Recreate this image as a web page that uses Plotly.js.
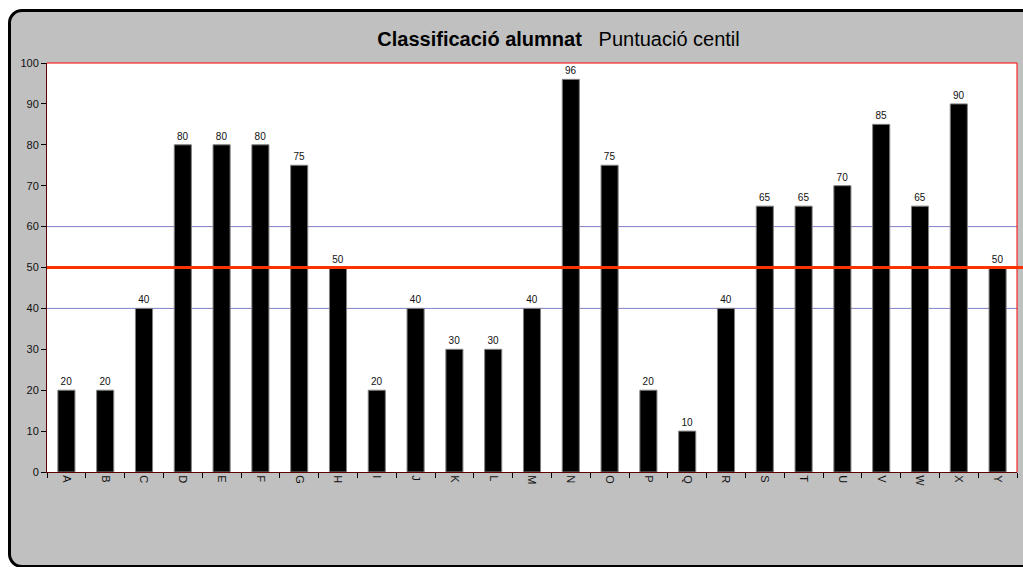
<!DOCTYPE html>
<html>
<head>
<meta charset="utf-8">
<script src="https://cdn.plot.ly/plotly-3.0.1.min.js"></script>
<style>
  html, body { margin:0; padding:0; background:#ffffff; overflow:hidden; }
  #frame { position:absolute; left:8px; top:9px; width:1040px; height:553px;
           border:3px solid #000; border-radius:14px; background:#c0c0c0; }
  #chart { position:absolute; left:0; top:0; width:1023px; height:567px; }
</style>
</head>
<body>
<div id="frame"></div>
<div id="chart"></div>
<script>
const categories = ['A','B','C','D','E','F','G','H','I','J','K','L','M','N','O','P','Q','R','S','T','U','V','W','X','Y'];
const scores = [20,20,40,80,80,80,75,50,20,40,30,30,40,96,75,20,10,40,65,65,70,85,65,90,50];
const yTicks = [0,10,20,30,40,50,60,70,80,90,100];
const threshold = 50;
const gridValues = [40, 60];

const trace = {
  type: 'bar',
  x: categories,
  y: scores,
  text: scores.map(String),
  textposition: 'outside',
  cliponaxis: false,
  textfont: {family: 'Liberation Sans, Arial, sans-serif', size: 10, color: '#111'},
  marker: {color: '#000000', line: {color: '#808080', width: 1}},
  hoverinfo: 'x+y'
};

const shapes = [];
gridValues.forEach(v => shapes.push({
  type: 'line', xref: 'paper', yref: 'y', x0: 0, x1: 1, y0: v, y1: v,
  line: {color: '#8080c8', width: 1}, layer: 'below'
}));
// plot border top & right
shapes.push({type:'line', xref:'paper', yref:'paper', x0:0, x1:1, y0:1, y1:1, line:{color:'#ff0000', width:1}});
shapes.push({type:'line', xref:'paper', yref:'paper', x0:1, x1:1, y0:0, y1:1, line:{color:'#ff0000', width:1}});
// threshold line
shapes.push({type:'line', xref:'paper', yref:'y', x0:0, x1:1.01, y0:threshold, y1:threshold,
  line:{color:'#ff3300', width:3}, layer:'above'});

const layout = {
  width: 1023, height: 567,
  margin: {l: 47, r: 6, t: 63, b: 95},
  paper_bgcolor: 'rgba(0,0,0,0)',
  plot_bgcolor: '#ffffff',
  showlegend: false,
  bargap: 0.56,
  font: {family: 'Liberation Sans, Arial, sans-serif', color: '#222'},
  title: {
    text: '<b>Classificació alumnat</b>&nbsp;&nbsp;&nbsp;Puntuació centil',
    font: {size: 20, color: '#000', family: 'Liberation Sans, Arial, sans-serif'},
    xref: 'container', x: 0.546, xanchor: 'center',
    yref: 'container', y: 0.931, yanchor: 'middle'
  },
  xaxis: {
    type: 'category',
    tickangle: 90,
    ticks: 'outside', ticklen: 5, tickcolor: '#000', tickson: 'boundaries',
    showline: true, linecolor: '#600000', linewidth: 1,
    showgrid: false, zeroline: false,
    tickfont: {size: 11, color: '#111'},
    fixedrange: true
  },
  yaxis: {
    range: [0, 100],
    tickvals: yTicks,
    ticks: 'outside', ticklen: 5, tickcolor: '#000',
    showline: true, linecolor: '#600000', linewidth: 1,
    showgrid: false, zeroline: false,
    tickfont: {size: 11, color: '#111'},
    fixedrange: true
  },
  shapes: shapes
};

Plotly.newPlot('chart', [trace], layout, {displayModeBar: false, staticPlot: true});
</script>
</body>
</html>
